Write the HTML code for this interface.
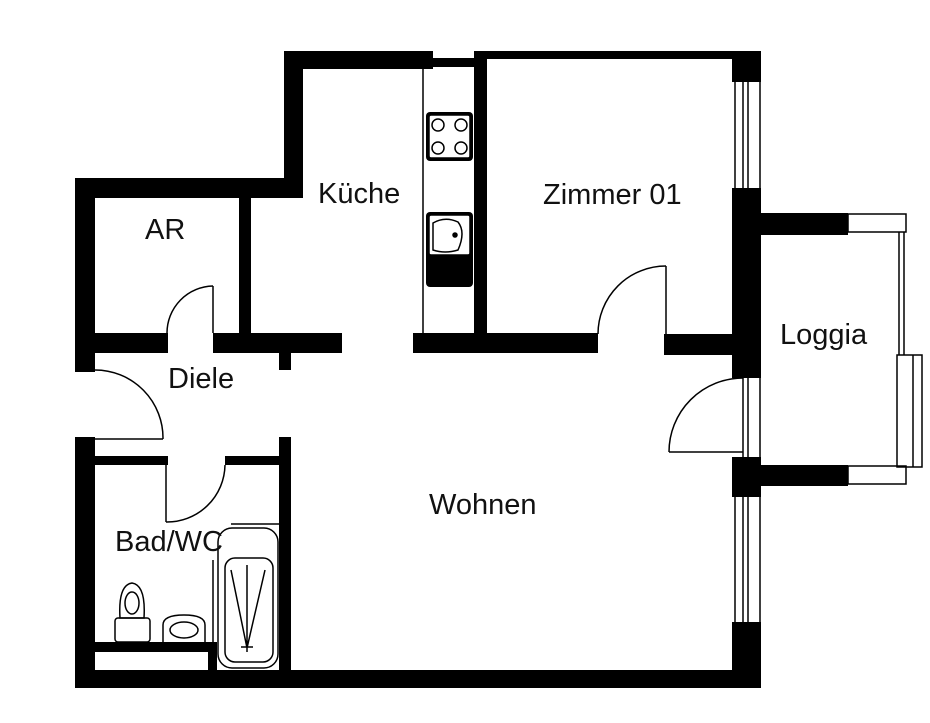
<!DOCTYPE html>
<html><head><meta charset="utf-8"><style>
html,body{margin:0;padding:0;background:#fff;}
svg{display:block;}
text{font-family:"Liberation Sans",Arial,sans-serif;font-size:29px;fill:#111;}
</style></head><body>
<svg width="930" height="723" viewBox="0 0 930 723" xmlns="http://www.w3.org/2000/svg">
<g fill="#000">
<rect x="284" y="51" width="149" height="18"/>
<rect x="284" y="51" width="19" height="147"/>
<rect x="433" y="58" width="42" height="9"/>
<rect x="75" y="178" width="228" height="20"/>
<rect x="75" y="178" width="20" height="194"/>
<rect x="239" y="198" width="12" height="135"/>
<rect x="474" y="51" width="287" height="8"/>
<rect x="474" y="51" width="13" height="282"/>
<rect x="732" y="51" width="29" height="31"/>
<rect x="95" y="333" width="73" height="20"/>
<rect x="213" y="333" width="129" height="20"/>
<rect x="279" y="353" width="12" height="17"/>
<rect x="413" y="333" width="185" height="20"/>
<rect x="664" y="334" width="70" height="21"/>
<rect x="732" y="188" width="29" height="190"/>
<rect x="732" y="457" width="29" height="40"/>
<rect x="732" y="622" width="29" height="66"/>
<rect x="761" y="213" width="87" height="22"/>
<rect x="761" y="465" width="87" height="21"/>
<rect x="75" y="437" width="20" height="251"/>
<rect x="95" y="456" width="73" height="9"/>
<rect x="225" y="456" width="55" height="9"/>
<rect x="279" y="437" width="12" height="240"/>
<rect x="75" y="670" width="686" height="18"/>
<rect x="95" y="642" width="122" height="10"/>
<rect x="208" y="652" width="9" height="18"/>
<rect x="426" y="112" width="47" height="49" rx="4"/>
<rect x="426" y="212" width="47" height="75" rx="4"/>
</g>
<g fill="none" stroke="#000" stroke-width="1.5">
<line x1="423" y1="67" x2="423" y2="333"/>
<rect x="429" y="115" width="41" height="43" fill="#fff" rx="2"/>
<circle cx="438" cy="125" r="6"/><circle cx="461" cy="125" r="6"/>
<circle cx="438" cy="148" r="6"/><circle cx="461" cy="148" r="6"/>
<rect x="429" y="215" width="41" height="40" fill="#fff" rx="2"/>
<path d="M433 223 Q445 216 458 222 Q466 232 458 250 Q445 254 433 250 Z"/>
<circle cx="455" cy="235" r="2" fill="#000"/>
<line x1="213" y1="286" x2="213" y2="333"/>
<path d="M213 286 A47 47 0 0 0 167 333"/>
<line x1="666" y1="266" x2="666" y2="334"/>
<path d="M666 266 A68 68 0 0 0 598 334"/>
<line x1="669" y1="452" x2="743" y2="452"/>
<path d="M743 378 A74 74 0 0 0 669 452"/>
<line x1="95" y1="439" x2="163" y2="439"/>
<path d="M95 370 A68 68 0 0 1 163 439"/>
<line x1="166" y1="465" x2="166" y2="522"/>
<path d="M166 522 A58 58 0 0 0 225 465"/>
<line x1="735" y1="82" x2="735" y2="188"/><line x1="760" y1="82" x2="760" y2="188"/>
<line x1="743" y1="82" x2="743" y2="188"/><line x1="748" y1="82" x2="748" y2="188"/>
<line x1="743" y1="378" x2="743" y2="457"/><line x1="748" y1="378" x2="748" y2="457"/>
<line x1="760" y1="378" x2="760" y2="457"/>
<line x1="735" y1="497" x2="735" y2="622"/><line x1="760" y1="497" x2="760" y2="622"/>
<line x1="743" y1="497" x2="743" y2="622"/><line x1="748" y1="497" x2="748" y2="622"/>
<rect x="848" y="214" width="58" height="18"/>
<rect x="848" y="466" width="58" height="18"/>
<line x1="899" y1="232" x2="899" y2="355"/><line x1="904" y1="232" x2="904" y2="355"/>
<rect x="897" y="355" width="25" height="112"/>
<line x1="913" y1="355" x2="913" y2="467"/>
<line x1="231" y1="524" x2="279" y2="524"/>
<rect x="218" y="528" width="60" height="140" rx="14"/>
<rect x="225" y="558" width="48" height="104" rx="10"/>
<path d="M231 570 L247 648 L265 570 M247 565 L247 652 M241 647 L253 647"/>
<line x1="213" y1="560" x2="213" y2="670"/>
<rect x="115" y="618" width="35" height="24" rx="3"/>
<path d="M120 618 Q118 585 132 583 Q146 585 144 618 Z"/>
<ellipse cx="132" cy="603" rx="7" ry="11"/>
<path d="M163 642 L163 625 Q163 615 184 615 Q205 615 205 625 L205 642"/>
<ellipse cx="184" cy="630" rx="14" ry="8"/>
</g>
<text x="145" y="239">AR</text>
<text x="318" y="203">Küche</text>
<text x="543" y="204">Zimmer 01</text>
<text x="780" y="344">Loggia</text>
<text x="168" y="388">Diele</text>
<text x="429" y="514">Wohnen</text>
<text x="115" y="551">Bad/WC</text>
</svg>
</body></html>
